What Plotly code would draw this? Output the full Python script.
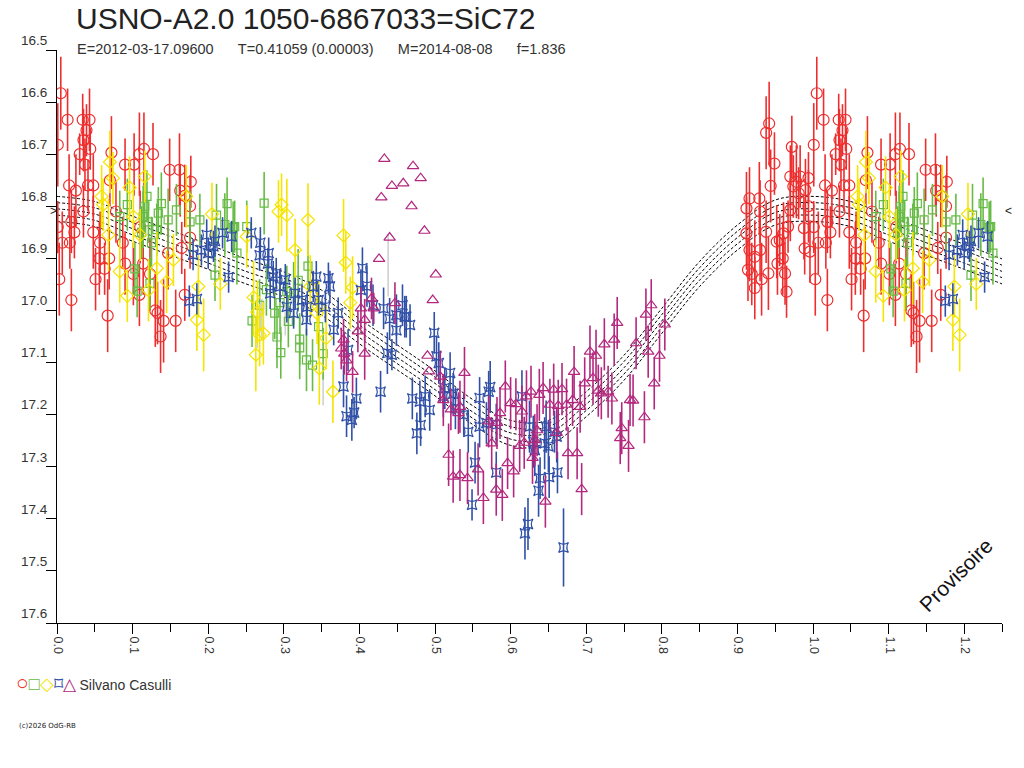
import plotly.graph_objects as go

red_phase = [0.005, 0.001, 0.014, 0.034, 0.043, 0.039, 0.035, 0.072, 0.109, 0.115, 0.127, 0.102, 0.090,
             0.149, 0.162, 0.177, 0.016, 0.025, 0.041, 0.048, 0.070, 0.169, 0.163, 0.001, 0.019, 0.023,
             0.048, 0.007, 0.017, 0.057, 0.056, 0.069, 0.063, 0.051, 0.003, 0.019, 0.067, 0.109, 0.130,
             0.133, 0.141, 0.157, 0.137, 0.114, 0.165, 0.176, 0.147, 0.090, 0.087, 0.101, 0.123, 0.169,
             0.176, 0.110, 0.078, 0.035, 0.030, 0.037, 0.044,
             0.942, 0.938, 0.949, 0.944, 0.972, 0.912, 0.916, 0.929, 0.930, 0.912, 0.916, 0.923, 0.930,
             0.919, 0.932, 0.923, 0.941, 0.938, 0.952, 0.961, 0.956, 0.953, 0.960, 0.963, 0.965, 0.970,
             0.978, 0.983, 0.994, 0.990, 0.981, 0.974, 0.988, 0.994, 0.970, 0.967, 0.996, 0.989, 0.914]
red_mag = [16.583, 16.682, 16.634, 16.634, 16.634, 16.654, 16.673, 16.697, 16.700, 16.690, 16.700, 16.720,
           16.720, 16.730, 16.730, 16.753, 16.760, 16.770, 16.760, 16.760, 16.750, 16.780, 16.770, 16.840,
           16.830, 16.850, 16.850, 16.870, 16.870, 16.870, 16.900, 16.900, 16.920, 16.940, 16.940, 16.980,
           17.010, 16.970, 17.000, 17.005, 17.020, 17.020, 17.050, 16.910, 16.880, 16.860, 16.890, 16.910,
           16.870, 16.930, 16.930, 16.970, 16.800, 16.840, 16.810, 16.810, 16.700, 16.720, 16.690,
           16.641, 16.659, 16.718, 16.761, 16.686, 16.804, 16.785, 16.785, 16.810, 16.852, 16.884, 16.897,
           16.884, 16.930, 16.940, 16.957, 16.929, 16.849, 16.868, 16.852, 16.865, 16.910, 16.900, 16.929,
           16.964, 16.743, 16.753, 16.743, 16.746, 16.769, 16.775, 16.762, 16.842, 16.800, 16.807, 16.839,
           16.887, 16.881, 16.922]
red_err = [0.07, 0.08, 0.06, 0.05, 0.06, 0.05, 0.06, 0.07, 0.08, 0.07, 0.06, 0.06, 0.05, 0.06, 0.07, 0.05,
           0.06, 0.07, 0.05, 0.06, 0.05, 0.06, 0.05, 0.05, 0.06, 0.05, 0.07, 0.06, 0.05, 0.06, 0.07, 0.06,
           0.05, 0.06, 0.07, 0.06, 0.07, 0.06, 0.07, 0.06, 0.08, 0.06, 0.07, 0.06, 0.05, 0.06, 0.07, 0.06,
           0.05, 0.06, 0.07, 0.05, 0.06, 0.07, 0.06, 0.05, 0.04, 0.05, 0.04,
           0.08, 0.07, 0.06, 0.07, 0.06, 0.07, 0.06, 0.07, 0.06, 0.07, 0.06, 0.07, 0.06, 0.06, 0.07, 0.06,
           0.07, 0.06, 0.07, 0.06, 0.05, 0.06, 0.07, 0.06, 0.05, 0.06, 0.07, 0.06, 0.05, 0.06, 0.05, 0.06,
           0.06, 0.07, 0.06, 0.05, 0.06, 0.05, 0.06]

green_phase = [0.106, 0.123, 0.138, 0.189, 0.211, 0.225, 0.222, 0.235, 0.238, 0.209, 0.274, 0.251, 0.176,
               0.158, 0.147, 0.132, 0.114, 0.093, 0.083, 0.134, 0.319, 0.332, 0.304, 0.291, 0.296, 0.321,
               0.330, 0.338, 0.352, 0.346, 0.321, 0.306, 0.313, 0.277, 0.103, 0.119, 0.233, 0.288, 0.295,
               0.116, 0.121, 0.112, 0.125, 0.258, 0.268]
green_mag = [16.963, 16.948, 16.795, 16.826, 16.817, 16.795, 16.835, 16.839, 16.890, 16.932, 16.794, 16.839,
             16.830, 16.807, 16.826, 16.845, 16.820, 16.797, 16.820, 16.813, 16.942, 16.915, 16.964, 17.051,
             17.081, 17.072, 17.095, 17.105, 17.083, 17.031, 17.055, 17.021, 16.967, 16.960, 16.920, 16.781,
             16.841, 17.005, 16.985, 16.800, 16.830, 16.850, 16.870, 17.020, 16.990]
green_err = [0.05, 0.05, 0.06, 0.05, 0.06, 0.05, 0.06, 0.05, 0.06, 0.05, 0.06, 0.05, 0.06, 0.05, 0.06, 0.05,
             0.06, 0.05, 0.05, 0.05, 0.06, 0.05, 0.05, 0.06, 0.05, 0.06, 0.06, 0.05, 0.05, 0.06, 0.05, 0.05,
             0.06, 0.05, 0.05, 0.05, 0.05, 0.05, 0.06, 0.05, 0.04, 0.05, 0.05, 0.05, 0.05]

yellow_phase = [0.070, 0.074, 0.059, 0.061, 0.096, 0.116, 0.171, 0.068, 0.083, 0.093, 0.121, 0.132, 0.145,
                0.154, 0.185, 0.194, 0.205, 0.216, 0.251, 0.260, 0.293, 0.304, 0.297, 0.332, 0.315, 0.263,
                0.268, 0.347, 0.356, 0.101, 0.110, 0.187, 0.379, 0.382, 0.391, 0.388, 0.265, 0.273, 0.365,
                0.335, 0.346, 0.344]
yellow_mag = [16.715, 16.746, 16.781, 16.797, 16.764, 16.743, 16.781, 16.855, 16.925, 16.972, 16.961, 16.919,
              16.945, 16.903, 17.018, 17.047, 16.815, 16.949, 16.858, 16.975, 16.810, 16.817, 16.797, 16.826,
              16.884, 17.085, 17.047, 17.111, 17.053, 16.820, 16.855, 16.954, 16.856, 16.908, 16.956, 16.985,
              17.003, 17.044, 17.156, 16.954, 16.993, 17.005]
yellow_err = [0.06, 0.05, 0.06, 0.05, 0.06, 0.05, 0.06, 0.07, 0.06, 0.05, 0.06, 0.07, 0.06, 0.05, 0.06, 0.07,
              0.06, 0.05, 0.06, 0.07, 0.06, 0.07, 0.06, 0.07, 0.06, 0.07, 0.06, 0.07, 0.06, 0.06, 0.05, 0.06,
              0.07, 0.06, 0.06, 0.05, 0.06, 0.06, 0.06, 0.06, 0.05, 0.06]

grey_phase = [0.265, 0.271, 0.302, 0.352, 0.438]
grey_mag = [17.037, 17.018, 17.018, 17.152, 16.913]
grey_err = [0.035, 0.04, 0.03, 0.03, 0.06]

blue_phase = [0.175, 0.185, 0.180, 0.198, 0.209, 0.219, 0.231, 0.200, 0.207, 0.227, 0.257, 0.269, 0.280,
              0.286, 0.282, 0.304, 0.313, 0.330, 0.343, 0.359, 0.346, 0.355, 0.366, 0.339, 0.191, 0.268,
              0.279, 0.290, 0.302, 0.295, 0.315, 0.324, 0.331, 0.361, 0.372, 0.404, 0.410, 0.402, 0.418,
              0.432, 0.440, 0.449, 0.460, 0.467, 0.449, 0.499, 0.437, 0.443, 0.385, 0.379, 0.396, 0.428,
              0.383, 0.390, 0.393, 0.470, 0.493, 0.502, 0.476, 0.481, 0.520, 0.457, 0.462, 0.505, 0.480,
              0.487, 0.513, 0.524, 0.511, 0.527, 0.538, 0.544, 0.553, 0.549, 0.559, 0.573, 0.571, 0.559,
              0.568, 0.581, 0.581, 0.615, 0.625, 0.630, 0.632, 0.647, 0.658, 0.661, 0.645, 0.650, 0.639,
              0.651, 0.662, 0.637, 0.623, 0.619, 0.670]
blue_mag = [16.982, 16.978, 16.893, 16.855, 16.867, 16.851, 16.858, 16.890, 16.877, 16.936, 16.851, 16.870,
            16.890, 16.935, 16.967, 16.993, 17.005, 17.018, 16.935, 16.938, 16.980, 16.993, 17.037, 16.954,
            16.884, 16.894, 16.910, 16.929, 16.941, 16.954, 16.967, 16.980, 16.993, 16.954, 17.005, 16.919,
            16.953, 16.961, 16.990, 16.996, 17.016, 17.009, 17.012, 17.028, 17.038, 17.043, 17.082, 17.085,
            17.076, 17.146, 17.169, 17.156, 17.203, 17.210, 17.196, 17.169, 17.191, 17.088, 17.236, 17.220,
            17.120, 16.990, 17.012, 17.101, 17.175, 17.165, 17.149, 17.160, 17.165, 17.188, 17.200, 17.233,
            17.292, 17.373, 17.168, 17.147, 17.156, 17.223, 17.216, 17.219, 17.311, 17.165, 17.223, 17.252,
            17.268, 17.223, 17.233, 17.242, 17.255, 17.261, 17.322, 17.320, 17.311, 17.346, 17.410, 17.428,
            17.455]
blue_err = [0.03, 0.03, 0.03, 0.03, 0.03, 0.03, 0.03, 0.03, 0.03, 0.03, 0.03, 0.03, 0.03, 0.03, 0.03, 0.03,
            0.03, 0.03, 0.03, 0.03, 0.03, 0.03, 0.03, 0.03, 0.03, 0.03, 0.03, 0.03, 0.03, 0.03, 0.03, 0.03,
            0.03, 0.03, 0.03, 0.04, 0.04, 0.04, 0.04, 0.04, 0.04, 0.04, 0.04, 0.04, 0.03, 0.04, 0.04, 0.03,
            0.04, 0.04, 0.04, 0.04, 0.04, 0.04, 0.03, 0.04, 0.04, 0.04, 0.04, 0.04, 0.04, 0.04, 0.04, 0.04,
            0.04, 0.04, 0.04, 0.04, 0.04, 0.04, 0.04, 0.04, 0.04, 0.03, 0.04, 0.05, 0.04, 0.04, 0.04, 0.04,
            0.04, 0.05, 0.05, 0.05, 0.05, 0.05, 0.04, 0.05, 0.05, 0.05, 0.04, 0.04, 0.04, 0.05, 0.05, 0.05,
            0.075]

magenta_phase = [0.416, 0.402, 0.419, 0.447, 0.376, 0.380, 0.383, 0.391, 0.407, 0.407, 0.398, 0.379, 0.539,
                 0.507, 0.511, 0.533, 0.521, 0.531, 0.518, 0.524, 0.533, 0.543, 0.564, 0.557, 0.575, 0.571,
                 0.582, 0.586, 0.581, 0.589, 0.596, 0.604, 0.593, 0.600, 0.607, 0.615, 0.612, 0.618, 0.621,
                 0.627, 0.629, 0.632, 0.635, 0.638, 0.643, 0.646, 0.657, 0.668, 0.652, 0.663, 0.674, 0.661,
                 0.676, 0.688, 0.682, 0.684, 0.692, 0.694, 0.698, 0.705, 0.713, 0.709, 0.716, 0.724, 0.729,
                 0.734, 0.720, 0.737, 0.741, 0.747, 0.745, 0.756, 0.758, 0.762, 0.766, 0.777, 0.779, 0.786,
                 0.782, 0.790, 0.797, 0.804]
magenta_mag = [16.977, 16.996, 16.996, 16.986, 17.073, 17.083, 17.096, 17.118, 17.083, 17.018, 17.040, 17.056,
               17.120, 17.127, 17.172, 17.185, 17.190, 17.197, 17.277, 17.319, 17.316, 17.322, 17.360, 17.305,
               17.255, 17.213, 17.216, 17.197, 17.344, 17.354, 17.293, 17.309, 17.146, 17.178, 17.180, 17.194,
               17.260, 17.254, 17.165, 17.156, 17.283, 17.249, 17.230, 17.162, 17.149, 17.367, 17.152, 17.151,
               17.181, 17.183, 17.181, 17.235, 17.274, 17.274, 17.172, 17.118, 17.185, 17.343, 17.140, 17.079,
               17.087, 17.130, 17.154, 17.065, 17.156, 17.169, 17.159, 17.056, 17.024, 17.226, 17.245, 17.260,
               17.172, 17.173, 17.063, 17.205, 17.008, 16.990, 17.079, 17.140, 17.087, 17.027]
magenta_err = [0.04, 0.04, 0.03, 0.04, 0.04, 0.04, 0.04, 0.04, 0.05, 0.04, 0.04, 0.04, 0.05, 0.05, 0.05, 0.05,
               0.04, 0.04, 0.06, 0.05, 0.05, 0.05, 0.05, 0.05, 0.05, 0.05, 0.05, 0.05, 0.05, 0.05, 0.05, 0.05,
               0.05, 0.05, 0.05, 0.05, 0.05, 0.05, 0.05, 0.05, 0.05, 0.05, 0.05, 0.05, 0.05, 0.05, 0.05, 0.05,
               0.05, 0.05, 0.05, 0.05, 0.05, 0.05, 0.05, 0.05, 0.05, 0.05, 0.05, 0.05, 0.05, 0.05, 0.05, 0.05,
               0.05, 0.05, 0.05, 0.05, 0.05, 0.05, 0.05, 0.05, 0.05, 0.05, 0.05, 0.05, 0.05, 0.05, 0.05, 0.05,
               0.05, 0.05]

# magenta points drawn without error bars
outlier_phase = [0.433, 0.471, 0.481, 0.443, 0.458, 0.429, 0.469, 0.486, 0.440, 0.426, 0.501, 0.497, 0.490, 0.492]
outlier_mag = [16.709, 16.723, 16.746, 16.761, 16.756, 16.783, 16.800, 16.847, 16.860, 16.901, 16.931, 16.980,
               17.087, 17.117]

# fitted light curve
curve_phase = [0.00, 0.05, 0.10, 0.15, 0.20, 0.25, 0.30, 0.35, 0.40, 0.45, 0.50, 0.55, 0.60, 0.65, 0.70,
               0.75, 0.80, 0.85, 0.90, 0.95]
curve_mag = [16.805, 16.815, 16.843, 16.870, 16.897, 16.925, 16.950, 16.985, 17.040, 17.090, 17.140, 17.195,
             17.235, 17.235, 17.180, 17.110, 17.020, 16.930, 16.860, 16.812]
band_offsets = [-0.024, -0.012, 0.0, 0.012, 0.024]

tick_values = [0.0, 0.1, 0.2, 0.3, 0.4, 0.5, 0.6, 0.7, 0.8, 0.9, 1.0, 1.1, 1.2]

colors = {'red': '#EE2E2E', 'green': '#66BB44', 'yellow': '#F5E400', 'blue': '#3050A8',
          'magenta': '#B3287E', 'grey': '#D0D0D0'}


def wrap(ph, *cols):
    # repeat the first quarter of the cycle after phase 1
    out_ph = list(ph)
    outs = [list(c) for c in cols]
    for i, p in enumerate(ph):
        if p <= 0.25:
            out_ph.append(p + 1)
            for o, c in zip(outs, cols):
                o.append(c[i])
    return [out_ph] + outs


fig = go.Figure()

# fit band
cp, cm = wrap(curve_phase, curve_mag)
for off in band_offsets:
    fig.add_trace(go.Scatter(x=cp, y=[m + off for m in cm], mode='lines',
                             line=dict(color='black', width=1, dash='3px,2px', shape='spline'),
                             hoverinfo='skip'))


def add_series(ph, mg, er, color, symbol, size):
    p, m, e = wrap(ph, mg, er)
    fig.add_trace(go.Scatter(
        x=p, y=m, mode='markers',
        marker=dict(symbol=symbol, size=size, color=color, line=dict(color=color, width=1.2)),
        error_y=dict(type='data', array=e, visible=True, color=color, thickness=1.6, width=0),
    ))


add_series(grey_phase, grey_mag, grey_err, colors['grey'], 'line-ew', 0.1)
add_series(red_phase, red_mag, red_err, colors['red'], 'circle-open', 11)
add_series(green_phase, green_mag, green_err, colors['green'], 'square-open', 8)
add_series(yellow_phase, yellow_mag, yellow_err, colors['yellow'], 'diamond-open', 10)
add_series(blue_phase, blue_mag, blue_err, colors['blue'], 'star-square-open', 9)
add_series(magenta_phase, magenta_mag, magenta_err, colors['magenta'], 'triangle-up-open', 10)
fig.add_trace(go.Scatter(x=outlier_phase, y=outlier_mag, mode='markers',
                         marker=dict(symbol='triangle-up-open', size=10, color=colors['magenta'],
                                     line=dict(color=colors['magenta'], width=1.2))))

# plot area in page pixels: x 57..1002, y 50..623
def px(x):
    return (x - 57) / 945


def py(y):
    return (623 - y) / 573


gap = '&nbsp;' * 6
fig.add_annotation(x=px(74), y=py(0), xref='paper', yref='paper', xanchor='left', yanchor='top',
                   text='USNO-A2.0 1050-6867033=SiC72', showarrow=False,
                   font=dict(family='Liberation Sans, Arial', size=30, color='#222'))
fig.add_annotation(x=px(75), y=py(49), xref='paper', yref='paper', xanchor='left', yanchor='middle',
                   text=f'E=2012-03-17.09600{gap}T=0.41059 (0.00003){gap}M=2014-08-08{gap}f=1.836',
                   showarrow=False, font=dict(family='Liberation Sans, Arial', size=14.5, color='#333'))
sym = "<span style='color:{};font-size:{}px'>{}</span>"
fig.add_annotation(x=px(14), y=py(683), xref='paper', yref='paper', xanchor='left', yanchor='middle',
                   text=sym.format(colors['red'], 21, '○') + sym.format(colors['green'], 18, '□')
                        + sym.format(colors['yellow'], 18, '◇') + sym.format(colors['blue'], 18, '⌑')
                        + sym.format(colors['magenta'], 17, '△') + ' Silvano Casulli',
                   showarrow=False, font=dict(family='Liberation Sans, Arial', size=14, color='#333'))
fig.add_annotation(x=px(17), y=py(726), xref='paper', yref='paper', xanchor='left', yanchor='middle',
                   text='(c)2026 OdG-RB', showarrow=False,
                   font=dict(family='DejaVu Sans', size=7, color='#222'))
fig.add_annotation(x=px(955), y=py(575), xref='paper', yref='paper', xanchor='center', yanchor='middle',
                   text='Provisoire', textangle=-45, showarrow=False,
                   font=dict(family='Liberation Sans, Arial', size=21, color='#111'))
fig.add_annotation(x=0, y=curve_mag[0] + 0.005, xanchor='right', yanchor='middle', text='>', showarrow=False,
                   xshift=2, font=dict(size=12, color='#222'))
fig.add_annotation(x=1.25, y=curve_mag[5] - 0.115, xanchor='left', yanchor='middle', text='<', showarrow=False,
                   xshift=1, font=dict(size=12, color='#222'))

fig.update_layout(
    width=1024, height=768,
    margin=dict(l=57, r=22, t=50, b=145),
    plot_bgcolor='white', paper_bgcolor='white',
    showlegend=False,
    font=dict(family='Liberation Sans, Arial', color='#333'),
)
fig.update_xaxes(range=[0, 1.25], tickvals=tick_values, ticktext=[f'{v:.1f}' for v in tick_values],
                 tickangle=90, ticks='outside', ticklen=10, tickcolor='black', showline=True,
                 linecolor='black', linewidth=1, showgrid=False, zeroline=False,
                 ticklabelposition='outside right', ticklabelstandoff=10,
                 tickfont=dict(size=12.5, color='#333'),
                 minor=dict(dtick=0.05, tick0=0, ticks='outside', ticklen=8, tickcolor='black'))
fig.update_yaxes(range=[17.6, 16.5], dtick=0.1, tick0=16.5, tickformat='.1f', ticks='outside', ticklen=10,
                 tickcolor='black', showline=True, linecolor='black', linewidth=1, showgrid=False,
                 zeroline=False, ticklabelposition='outside top', ticklabelstandoff=6,
                 tickfont=dict(size=13.5, color='#333'))

# the page should start at its top-left corner, like the reference image
fig.write_html("out.html", config={'displayModeBar': False},
               post_script="document.body.style.margin='0';")
